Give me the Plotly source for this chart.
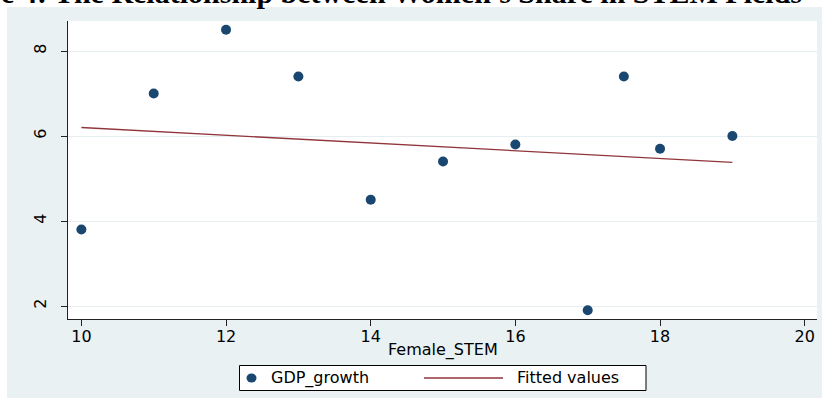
import plotly.graph_objects as go

# Data
female_stem = [10, 11, 12, 13, 14, 15, 16, 17, 17.5, 18, 19]
gdp_growth = [3.8, 7.0, 8.5, 7.4, 4.5, 5.4, 5.8, 1.9, 7.4, 5.7, 6.0]
fitted_x = [10, 19]
fitted_y = [6.2, 5.38]
x_ticks = [10, 12, 14, 16, 18, 20]
y_ticks = [2, 4, 6, 8]
series_names = ["GDP_growth", "Fitted values"]
title_text = "Figure 4: The Relationship between Women's Share in STEM Fields"
x_title = "Female_STEM"

W, H = 822, 401
ML, MR, MT, MB = 68, 5, 21, 82
PW = W - ML - MR
PH = H - MT - MB

BG = "#E9F1F3"
FONT = "DejaVu Sans"
DOT = "#1A476F"
LINE = "#90353B"

def px_x(p):
    return (p - ML) / PW

def px_y(p):
    return (H - MB - p) / PH

fig = go.Figure()
fig.add_trace(go.Scatter(
    x=female_stem, y=gdp_growth, mode="markers", name=series_names[0],
    marker=dict(size=10, color=DOT), showlegend=False,
))
fig.add_trace(go.Scatter(
    x=fitted_x, y=fitted_y, mode="lines", name=series_names[1],
    line=dict(color=LINE, width=1.3), showlegend=False,
))

axis_common = dict(
    showline=True, linecolor="#222222", linewidth=1,
    ticks="outside", ticklen=6, tickcolor="#222222", tickwidth=1,
    tickfont=dict(family=FONT, size=16, color="#000000"),
    zeroline=False, automargin=False,
)

fig.update_xaxes(
    range=[9.815, 20.17], tickvals=x_ticks, showgrid=False, ticklabelstandoff=-3,
    **axis_common,
)
fig.update_yaxes(
    range=[1.694, 8.706], tickvals=y_ticks, showgrid=True, gridcolor="#E6EEF1", gridwidth=1,
    tickangle=-90, ticklabelstandoff=9,
    **axis_common,
)

def prect(x0, y0, x1, y1, **kw):
    return dict(type="rect", xref="paper", yref="paper",
                x0=px_x(x0), x1=px_x(x1), y0=px_y(y1), y1=px_y(y0), **kw)

shapes = [
    # white strips outside the graph region
    prect(-5, -5, W + 5, 7, fillcolor="white", line=dict(width=0), layer="below"),
    prect(-5, -5, 7, H + 5, fillcolor="white", line=dict(width=0), layer="below"),
    prect(-5, 398, W + 5, H + 5, fillcolor="white", line=dict(width=0), layer="below"),
    # legend box
    prect(239.5, 365.5, 646, 390.5, fillcolor="white", line=dict(color="#000000", width=1)),
    # legend marker sample
    dict(type="circle", xref="paper", yref="paper",
         x0=px_x(246.5), x1=px_x(256.5), y0=px_y(382.5), y1=px_y(373.5),
         fillcolor=DOT, line=dict(width=0)),
    # legend line sample
    dict(type="line", xref="paper", yref="paper",
         x0=px_x(424), x1=px_x(503), y0=px_y(378), y1=px_y(378),
         line=dict(color=LINE, width=1.3)),
]

annotations = [
    dict(
        text="<b>" + title_text + "</b>", xref="paper", yref="paper",
        x=px_x(-72), y=px_y(11), xanchor="left", yanchor="bottom",
        showarrow=False, font=dict(family="Liberation Serif", size=30, color="#000000"),
    ),
    dict(
        text=x_title, xref="paper", yref="paper",
        x=0.5, y=px_y(350), xanchor="center", yanchor="middle",
        showarrow=False, font=dict(family=FONT, size=16, color="#000000"),
    ),
    dict(
        text=series_names[0], xref="paper", yref="paper",
        x=px_x(269), y=px_y(378), xanchor="left", yanchor="middle",
        showarrow=False, font=dict(family=FONT, size=16, color="#000000"),
    ),
    dict(
        text=series_names[1], xref="paper", yref="paper",
        x=px_x(515), y=px_y(378), xanchor="left", yanchor="middle",
        showarrow=False, font=dict(family=FONT, size=16, color="#000000"),
    ),
]

fig.update_layout(
    width=W, height=H,
    margin=dict(l=ML, r=MR, t=MT, b=MB, pad=0, autoexpand=False),
    paper_bgcolor=BG, plot_bgcolor="white",
    shapes=shapes,
    annotations=annotations,
    showlegend=False,
)

fig.write_html(
    "out.html",
    config={"displayModeBar": False},
    post_script="document.body.style.margin='0';document.body.style.overflow='hidden';",
)
